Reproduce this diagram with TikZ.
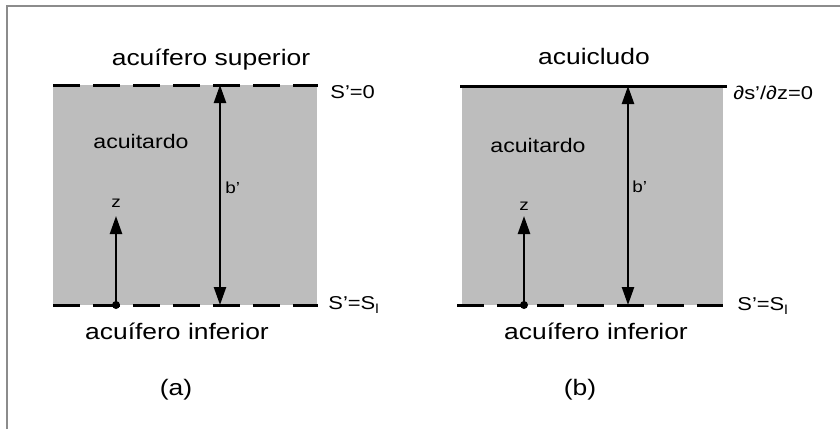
\documentclass[tikz,border=0pt]{standalone}
\usepackage{graphicx}
\usepackage{fontspec}
\setmainfont{Liberation Sans}
\usetikzlibrary{arrows.meta}

% Arial-like lettering of the scan is a little wider than tall
\newcommand{\wide}[1]{\scalebox{1.18}[1]{#1}}

\begin{document}
\begin{tikzpicture}[x=0.5pt, y=-0.5pt,
    label/.style={inner sep=0pt, font=\fontsize{11.2}{13}\selectfont},
    small/.style={inner sep=0pt, font=\fontsize{9.8}{11}\selectfont},
    side/.style={inner sep=0pt, anchor=west, font=\fontsize{9.3}{11}\selectfont},
    tiny/.style={inner sep=0pt, font=\fontsize{8}{9}\selectfont},
    aquitard/.style={fill=black!26},
    boundary/.style={line width=1.5pt},
    leaky/.style={boundary, dash pattern=on 13.3pt off 6.7pt},
    span/.style={{Triangle[length=9pt,width=6pt]}-{Triangle[length=9pt,width=6pt]}, line width=1.2pt},
    axis/.style={-{Triangle[length=9pt,width=6pt]}, line width=1.2pt},
]
\useasboundingbox (0,0) rectangle (840,429);

% Frame
\draw[black!45, line width=1.4pt] (7,429) -- (7,6) -- (840,6);

% ---------------- (a) ----------------
\fill[aquitard] (53,85) rectangle (317,305);
\draw[leaky] (53,85) -- (318,85);
\draw[leaky] (53,305) -- (318,305);

\coordinate (a-top) at (220,85);
\coordinate (a-bot) at (220,305);
\coordinate (a-z0) at (116,305);
\coordinate (a-z1) at (116,216);

\draw[span] (a-top) -- (a-bot);
\draw[axis] (a-z0) -- (a-z1);
\fill (a-z0) circle (4);

\node[label, anchor=base] (a-sup) at (211,65) {\wide{acuífero superior}};
\node[side] (a-s0) at (330,92) {\wide{S'=0}};
\node[small, anchor=base west] (a-acu) at (93,148) {\wide{acuitardo}};
\node[tiny, anchor=base west] (a-b) at (225,193) {\wide{b'}};
\node[tiny, anchor=base] (a-z) at (116,207) {\wide{z}};
\node[side] (a-sl) at (328,305) {\wide{S'=S\textsubscript{l}}};
\node[label, anchor=base] (a-inf) at (177,339) {\wide{acuífero inferior}};
\node[label] (a-cap) at (176,390) {\wide{(a)}};

% ---------------- (b) ----------------
\fill[aquitard] (462,86) rectangle (723,305);
\draw[boundary] (460,86) -- (727,86);
\draw[leaky] (457,305) -- (723,305);

\coordinate (b-top) at (628,86);
\coordinate (b-bot) at (628,305);
\coordinate (b-z0) at (524,305);
\coordinate (b-z1) at (524,216);

\draw[span] (b-top) -- (b-bot);
\draw[axis] (b-z0) -- (b-z1);
\fill (b-z0) circle (4);

\node[label, anchor=base] (b-clu) at (594,64) {\wide{acuicludo}};
\node[side] (b-ds) at (733,93) {\wide{∂s'/∂z=0}};
\node[small, anchor=base west] (b-acu) at (490,152) {\wide{acuitardo}};
\node[tiny, anchor=base west] (b-b) at (632,192) {\wide{b'}};
\node[tiny, anchor=base] (b-z) at (524,210) {\wide{z}};
\node[side] (b-sl) at (737,306) {\wide{S'=S\textsubscript{l}}};
\node[label, anchor=base] (b-inf) at (596,339) {\wide{acuífero inferior}};
\node[label] (b-cap) at (580,390) {\wide{(b)}};
\end{tikzpicture}
\end{document}
